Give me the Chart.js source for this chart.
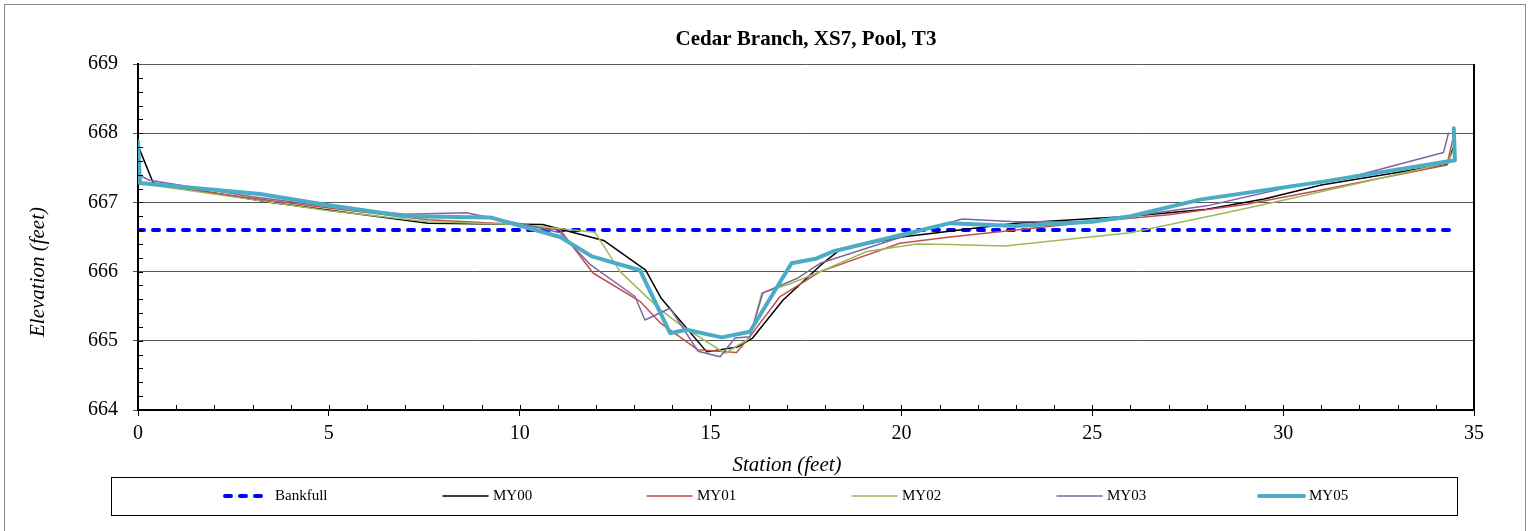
<!DOCTYPE html>
<html>
<head>
<meta charset="utf-8">
<script src="https://cdn.jsdelivr.net/npm/chart.js@4"></script>
<style>
  html, body { margin: 0; padding: 0; background: #fff; }
  #wrap { width: 1529px; height: 531px; }
</style>
</head>
<body>
<div id="wrap"><canvas id="xsChart" width="1529" height="531"></canvas></div>
<script>
// survey data (station ft, elevation ft)
const bankfullStation = [0, 34.5];
const bankfullElev = [666.6, 666.6];

const my00Station = [0, 0.4, 3.5, 7.6, 10.6, 12.2, 13.3, 13.7, 14.9, 15.7, 16.1, 16.9, 17.9, 18.4, 20, 23, 26, 28, 29.5, 31, 34.3, 34.5];
const my00Elev = [667.82, 667.28, 667.0, 666.7, 666.68, 666.45, 666.02, 665.62, 664.84, 664.91, 665.04, 665.59, 666.1, 666.32, 666.5, 666.7, 666.8, 666.9, 667.05, 667.25, 667.55, 667.85];

const my01Station = [0, 0.1, 3, 5, 7.6, 10, 11.06, 11.92, 13.15, 13.68, 14.67, 15.68, 16.03, 16.82, 17.87, 19.96, 21.27, 23, 25, 27, 29, 31, 34.29, 34.44];
const my01Elev = [667.45, 667.28, 667.06, 666.92, 666.75, 666.68, 666.6, 665.98, 665.57, 665.26, 664.87, 664.83, 665.06, 665.64, 666.0, 666.41, 666.5, 666.6, 666.72, 666.82, 666.97, 667.18, 667.54, 667.9];

const my02Station = [0, 0.1, 3, 5, 7.6, 10, 11.97, 12.63, 13.68, 14.28, 15.38, 16.03, 16.34, 17.07, 17.87, 19.09, 20.4, 21.27, 22.7, 26, 28.5, 30, 32, 34.3, 34.5];
const my02Elev = [667.35, 667.27, 667.04, 666.88, 666.72, 666.68, 666.57, 666.0, 665.45, 665.2, 664.82, 665.04, 665.69, 665.82, 666.0, 666.29, 666.4, 666.39, 666.37, 666.56, 666.85, 667.03, 667.28, 667.57, 667.8];

const my03Station = [0, 0.3, 3, 5, 7, 8.6, 10.3, 11.06, 11.85, 13.02, 13.28, 13.94, 14.67, 15.25, 15.64, 16.03, 16.37, 17.26, 17.87, 20, 21.59, 23, 25, 28, 30, 32, 34.2, 34.33];
const my03Elev = [667.4, 667.32, 667.08, 666.94, 666.83, 666.85, 666.66, 666.56, 666.1, 665.64, 665.3, 665.47, 664.85, 664.77, 665.04, 665.06, 665.69, 665.9, 666.12, 666.5, 666.76, 666.72, 666.72, 666.95, 667.2, 667.4, 667.72, 668.0];

const my05Station = [0, 0.05, 3.2, 5, 7, 9.25, 11.06, 11.89, 13.15, 13.94, 14.37, 15.29, 16.03, 17.12, 17.78, 18.2, 21.27, 23, 25, 26, 27.82, 31.05, 34.5, 34.47];
const my05Elev = [667.88, 667.28, 667.12, 666.96, 666.8, 666.78, 666.5, 666.22, 666.02, 665.11, 665.16, 665.05, 665.13, 666.12, 666.19, 666.29, 666.7, 666.66, 666.72, 666.8, 667.04, 667.3, 667.61, 668.07];

const xTicks = [0, 5, 10, 15, 20, 25, 30, 35];
const yTicks = [664, 665, 666, 667, 668, 669];

const SERIF = '"Liberation Serif", "Times New Roman", serif';

function toPoints(xs, ys) {
    return xs.map((x, i) => ({ x: x, y: ys[i] }));
}

function series(label, xs, ys, color, width, order, dash) {
    return {
        label: label,
        data: toPoints(xs, ys),
        borderColor: color,
        backgroundColor: color,
        borderWidth: width,
        borderDash: dash || [],
        borderCapStyle: 'round',
        borderJoinStyle: 'round',
        showLine: true,
        pointRadius: 0,
        pointHoverRadius: 0,
        tension: 0,
        fill: false,
        order: order
    };
}

// legend item x positions (line start) as in the reference
const legendX = [223, 441, 645, 850, 1055, 1257];

const decorPlugin = {
    id: 'decor',
    afterDraw(chart) {
        const ctx = chart.ctx;
        const area = chart.chartArea;
        const xs = chart.scales.x;
        const ys = chart.scales.y;
        ctx.save();

        // outer frame
        ctx.strokeStyle = '#8c8c8c';
        ctx.lineWidth = 1;
        ctx.strokeRect(4.5, 4.5, 1521, 540);

        // right border of the plot
        ctx.strokeStyle = '#000';
        ctx.lineWidth = 2;
        ctx.beginPath();
        ctx.moveTo(area.right, area.top);
        ctx.lineTo(area.right, area.bottom);
        ctx.stroke();

        // minor ticks pointing inward
        ctx.lineWidth = 1;
        for (let v = 664.2; v < 669; v += 0.2) {
            const py = Math.round(ys.getPixelForValue(v)) + 0.5;
            ctx.beginPath();
            ctx.moveTo(area.left, py);
            ctx.lineTo(area.left + 5, py);
            ctx.stroke();
        }
        for (let s = 1; s < 35; s++) {
            const px = Math.round(xs.getPixelForValue(s)) + 0.5;
            ctx.beginPath();
            ctx.moveTo(px, area.bottom);
            ctx.lineTo(px, area.bottom - 5);
            ctx.stroke();
        }

        // titles
        ctx.fillStyle = '#000';
        ctx.textAlign = 'center';
        ctx.textBaseline = 'middle';
        ctx.font = 'bold 21px ' + SERIF;
        ctx.fillText('Cedar Branch, XS7, Pool, T3', 806, 40);

        ctx.font = 'italic 21px ' + SERIF;
        ctx.fillText('Station (feet)', 787, 465);
        ctx.save();
        ctx.translate(38, 272);
        ctx.rotate(-Math.PI / 2);
        ctx.fillText('Elevation (feet)', 0, 0);
        ctx.restore();

        // legend box
        ctx.strokeStyle = '#000';
        ctx.lineWidth = 1;
        ctx.strokeRect(111.5, 477.5, 1346, 38);
        const ly = 496;
        ctx.font = '15px ' + SERIF;
        ctx.textAlign = 'left';
        chart.data.datasets.forEach((ds, i) => {
            const x0 = legendX[i];
            ctx.save();
            ctx.strokeStyle = ds.borderColor;
            ctx.lineWidth = ds.borderWidth;
            ctx.lineCap = 'round';
            ctx.setLineDash(ds.borderDash);
            ctx.beginPath();
            ctx.moveTo(x0 + 2, ly);
            ctx.lineTo(x0 + 47, ly);
            ctx.stroke();
            ctx.restore();
            ctx.fillText(ds.label, x0 + 52, ly);
        });

        ctx.restore();
    }
};

const chartCtx = document.getElementById('xsChart').getContext('2d');
new Chart(chartCtx, {
    type: 'scatter',
    data: {
        datasets: [
            series('Bankfull', bankfullStation, bankfullElev, '#0000ff', 4, 6, [6, 9]),
            series('MY00', my00Station, my00Elev, '#000000', 1.5, 5),
            series('MY01', my01Station, my01Elev, '#c0504d', 1.5, 4),
            series('MY02', my02Station, my02Elev, '#9bbb59', 1.5, 3),
            series('MY03', my03Station, my03Elev, '#8064a2', 1.5, 2),
            series('MY05', my05Station, my05Elev, '#4bacc6', 4, 1)
        ]
    },
    options: {
        responsive: false,
        animation: false,
        devicePixelRatio: 1,
        layout: { padding: { left: 78, right: 55, top: 64, bottom: 71 } },
        plugins: {
            legend: { display: false },
            title: { display: false },
            tooltip: { enabled: false }
        },
        scales: {
            x: {
                type: 'linear',
                min: 0,
                max: 35,
                afterFit: s => { s.height = 50; },
                afterBuildTicks: s => { s.ticks = xTicks.map(v => ({ value: v })); },
                ticks: {
                    color: '#000',
                    padding: 6,
                    maxRotation: 0,
                    font: { family: SERIF, size: 20 }
                },
                grid: {
                    drawOnChartArea: false,
                    drawTicks: true,
                    tickLength: 6,
                    color: '#000',
                    lineWidth: 1
                },
                border: { display: true, color: '#000', width: 2 }
            },
            y: {
                type: 'linear',
                min: 664,
                max: 669,
                afterFit: s => { s.width = 60; },
                afterBuildTicks: s => { s.ticks = yTicks.map(v => ({ value: v })); },
                ticks: {
                    color: '#000',
                    padding: 15,
                    font: { family: SERIF, size: 20 }
                },
                grid: {
                    drawTicks: true,
                    tickLength: 5,
                    color: '#555',
                    lineWidth: 1
                },
                border: { display: true, color: '#000', width: 2 }
            }
        }
    },
    plugins: [decorPlugin]
});
</script>
</body>
</html>
